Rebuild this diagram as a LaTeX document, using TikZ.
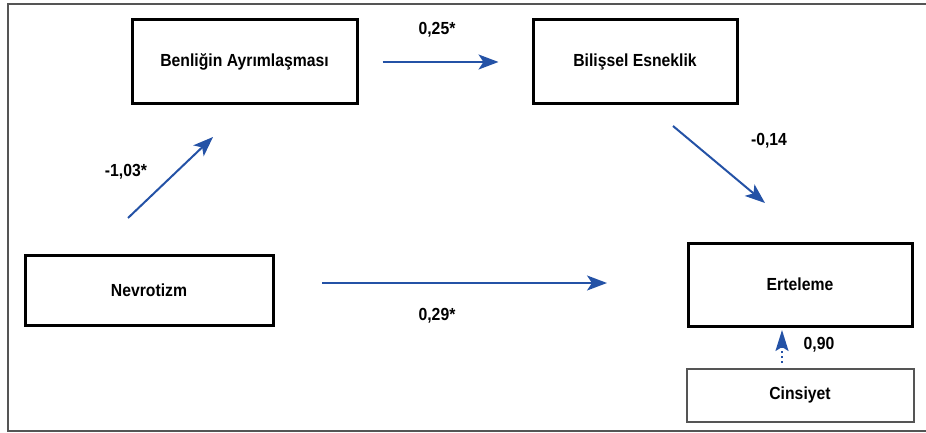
\documentclass[tikz,border=0pt]{standalone}
\usepackage{fontspec}
\setmainfont[FakeStretch=0.9]{Liberation Sans}
\usetikzlibrary{arrows.meta}
\definecolor{arrblue}{HTML}{2452A6}
\definecolor{framegray}{HTML}{555555}
\tikzset{
  box/.style={draw=black, line width=3pt, fill=white, inner sep=0pt, font=\fontsize{17.5}{20}\selectfont\bfseries},
  graybox/.style={draw=framegray, line width=2pt, fill=white, inner sep=0pt, font=\fontsize{17.5}{20}\selectfont\bfseries},
  arr/.style={draw=arrblue, line width=2pt, -{Stealth[length=20pt,width=15pt,inset=5pt]}},
  dotarr/.style={draw=arrblue, line width=2pt, dash pattern=on 2pt off 3pt, -{Stealth[length=21pt,width=13pt,inset=4pt]}},
  lbl/.style={font=\fontsize{17.5}{20}\selectfont\bfseries, inner sep=0pt}
}
\begin{document}
\begin{tikzpicture}[x=1pt,y=-1pt]
\useasboundingbox (0,0) rectangle (926,433);
\draw[framegray, line width=2pt] (926,4) -- (8,4) -- (8,431) -- (926,431);
\node[box, minimum width=225pt, minimum height=84pt] (ben) at (244.5,62) {Benliğin Ayrımlaşması};
\node[box, minimum width=204pt, minimum height=84pt] (bil) at (635,62) {Bilişsel Esneklik};
\node[box, minimum width=248pt, minimum height=70pt] (nev) at (149,290) {Nevrotizm};
\node[box, minimum width=224pt, minimum height=83pt] (ert) at (800,284.5) {Erteleme};
\node[graybox, minimum width=227pt, minimum height=53pt] (cin) at (800,395) {Cinsiyet};
% free ends of floating connectors
\coordinate (a1s) at (128,218); \coordinate (a1e) at (213,137);
\coordinate (a2s) at (673,126); \coordinate (a2e) at (765,203);
\coordinate (a3s) at (322,283); \coordinate (a3e) at (607,283);
\coordinate (a4s) at (782,363); \coordinate (a4e) at (782,330);
\draw[arr, shorten <=24pt, shorten >=33pt] (ben.east) -- (bil.west);
\draw[arr] (a1s) -- (a1e);
\draw[arr] (a2s) -- (a2e);
\draw[arr] (a3s) -- (a3e);
\draw[dotarr] (a4s) -- (a4e);
\node[lbl] (l1) at (437,30) {0,25*};
\node[lbl] (l2) at (126,172) {-1,03*};
\node[lbl] (l3) at (769,141) {-0,14};
\node[lbl] (l4) at (437,316) {0,29*};
\node[lbl] (l5) at (819,345) {0,90};
\end{tikzpicture}
\end{document}
